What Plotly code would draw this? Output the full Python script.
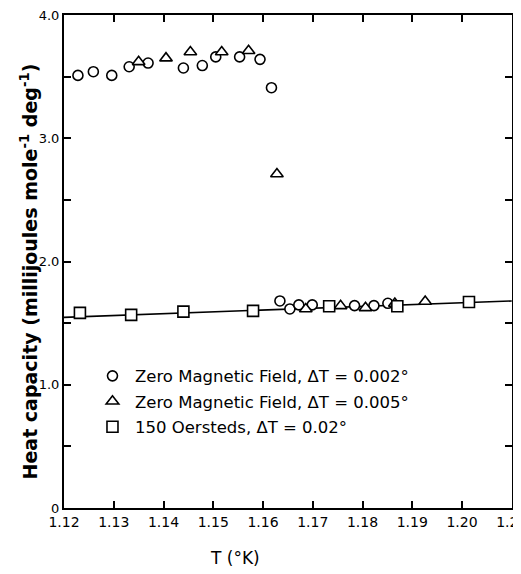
import plotly.graph_objects as go

# Zero magnetic field, dT = 0.002 deg (circles)
circ_T = [1.1228, 1.1259, 1.1296, 1.1331, 1.1369, 1.1440, 1.1478, 1.1505, 1.1553, 1.1594, 1.1617,
          1.1634, 1.1654, 1.1672, 1.1699, 1.1784, 1.1823, 1.1851]
circ_C = [3.51, 3.54, 3.51, 3.58, 3.61, 3.57, 3.59, 3.66, 3.66, 3.64, 3.41,
          1.68, 1.615, 1.648, 1.648, 1.642, 1.642, 1.661]

# Zero magnetic field, dT = 0.005 deg (triangles)
tri_T = [1.1350, 1.1405, 1.1454, 1.1517, 1.1571, 1.1628,
         1.1686, 1.1756, 1.1806, 1.1865, 1.1926]
tri_C = [3.62, 3.65, 3.70, 3.70, 3.71, 2.71,
         1.615, 1.640, 1.624, 1.659, 1.675]

# 150 Oersteds, dT = 0.02 deg (squares)
sq_T = [1.1232, 1.1335, 1.1440, 1.1580, 1.1733, 1.1870, 1.2014]
sq_C = [1.583, 1.567, 1.593, 1.599, 1.637, 1.637, 1.672]

# straight line through the 150 Oe data
fit_T = [1.12, 1.21]
fit_C = [1.547, 1.680]

x_ticks = [1.12, 1.13, 1.14, 1.15, 1.16, 1.17, 1.18, 1.19, 1.20, 1.21]
x_labels = ["1.12", "1.13", "1.14", "1.15", "1.16", "1.17", "1.18", "1.19", "1.20", "1.21"]
y_ticks = [0, 1, 2, 3, 4]
y_labels = ["0", "1.0", "2.0", "3.0", "4.0"]

FONT = "DejaVu Sans"
fig = go.Figure()

fig.add_trace(go.Scatter(x=fit_T, y=fit_C, mode="lines", line=dict(color="black", width=1.6),
                         showlegend=False, hoverinfo="skip"))
fig.add_trace(go.Scatter(x=circ_T, y=circ_C, mode="markers", name="Zero Magnetic Field, ΔT = 0.002°",
                         legendgroup="a",
                         marker=dict(symbol="circle", size=10, color="white",
                                     line=dict(color="black", width=1.6))))
fig.add_trace(go.Scatter(x=tri_T, y=tri_C, mode="markers", name="Zero Magnetic Field, ΔT = 0.005°",
                         legendgroup="b",
                         marker=dict(symbol="triangle-up", size=11, color="white",
                                     line=dict(color="black", width=1.6))))
fig.add_trace(go.Scatter(x=sq_T, y=sq_C, mode="markers", name="150 Oersteds, ΔT = 0.02°",
                         legendgroup="c",
                         marker=dict(symbol="square", size=11, color="white",
                                     line=dict(color="black", width=1.6))))

# the page body has an 8px default margin, so the figure is sized to fit the 521x574 window
fig.update_layout(
    width=513, height=566,
    margin=dict(l=56, r=9, t=7, b=66),
    paper_bgcolor="white", plot_bgcolor="white",
    font=dict(family=FONT, color="black", size=14),
    legend=dict(x=0.058, y=0.303, xanchor="left", yanchor="top",
                font=dict(family=FONT, size=16.5, color="black"),
                bgcolor="rgba(0,0,0,0)", tracegroupgap=1, traceorder="grouped",
                itemwidth=35),
    xaxis=dict(range=[1.12, 1.21005], tickvals=x_ticks, ticktext=x_labels, automargin=False,
               ticklabeloverflow="allow",
               ticks="inside", ticklen=7, tickwidth=1.5, tickcolor="black",
               showline=True, linecolor="black", linewidth=2, mirror="ticks",
               showgrid=False, zeroline=False,
               tickfont=dict(family=FONT, size=14, color="black")),
    yaxis=dict(range=[0, 4], tickvals=y_ticks, ticktext=y_labels, automargin=False,
               ticklabeloverflow="allow",
               ticks="inside", ticklen=7, tickwidth=1.5, tickcolor="black",
               minor=dict(dtick=0.5, ticks="inside", ticklen=7, tickwidth=1.5, tickcolor="black"),
               showline=True, linecolor="black", linewidth=2, mirror="ticks",
               showgrid=False, zeroline=False,
               tickfont=dict(family=FONT, size=13, color="black")),
    annotations=[
        dict(text="<b>Heat capacity (millijoules mole<sup>-1</sup> deg<sup>-1</sup>)</b>",
             xref="paper", yref="paper", x=-0.079, y=0.479, xanchor="center", yanchor="middle",
             textangle=-90, showarrow=False, font=dict(family=FONT, size=19, color="black")),
        dict(text="T (°K)", xref="paper", yref="paper", x=(235 - 64) / 448, y=-0.101,
             xanchor="center", yanchor="middle", showarrow=False,
             font=dict(family=FONT, size=17, color="black")),
    ],
)

fig.write_html("out.html")
